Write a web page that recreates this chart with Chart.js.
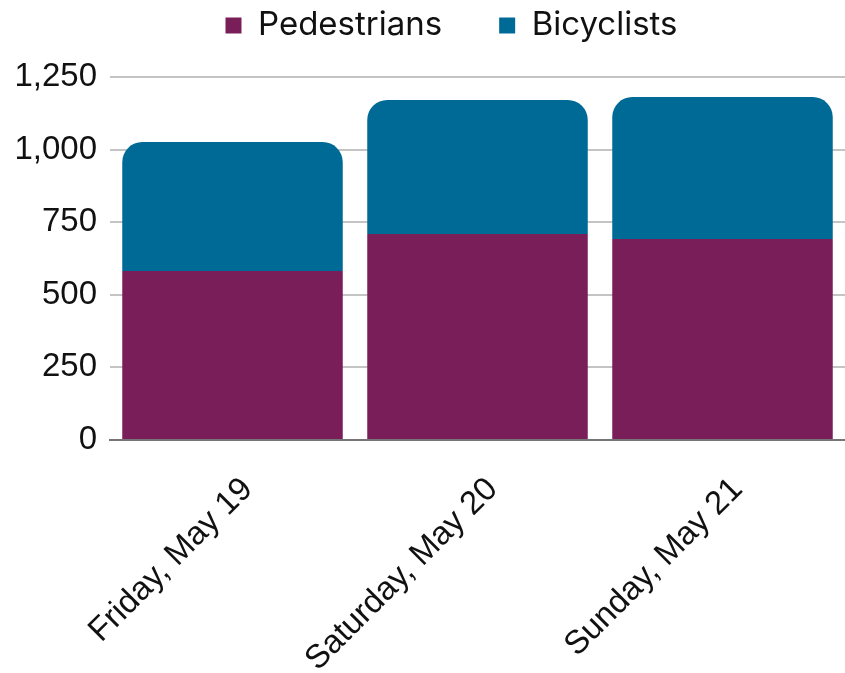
<!DOCTYPE html>
<html>
<head>
<meta charset="utf-8">
<script src="https://cdn.jsdelivr.net/npm/chart.js@4/dist/chart.umd.min.js"></script>
<style>
  html, body { margin: 0; padding: 0; background: #fff; }
  #wrap { width: 845px; height: 673px; }
</style>
</head>
<body>
<div id="wrap"><canvas id="countChart"></canvas></div>
<script>
const days = ["Friday, May 19", "Saturday, May 20", "Sunday, May 21"];
const pedestrians = [582, 709, 692];
const bicyclists = [444, 462, 489];
const yTicks = [0, 250, 500, 750, 1000, 1250];

const ctx = document.getElementById('countChart').getContext('2d');

// legend needs wide gaps between items but a short box, so cap its height
// and nudge it a bit right of the page centre
const legendTweak = {
  id: 'legendTweak',
  beforeInit(chart) {
    const fit = chart.legend.fit;
    chart.legend.fit = function () {
      fit.call(this);
      this.height = 125;
    };
  },
  afterLayout(chart) {
    chart.legend.left += 29;
    chart.legend.right += 29;
  }
};

new Chart(ctx, {
  type: 'bar',
  data: {
    labels: days,
    datasets: [
      {
        label: 'Pedestrians',
        data: pedestrians,
        backgroundColor: '#7a1e5a',
        borderWidth: 0,
        borderRadius: 0,
        barPercentage: 0.9,
        categoryPercentage: 1
      },
      {
        label: 'Bicyclists',
        data: bicyclists,
        backgroundColor: '#006a96',
        borderWidth: 0,
        borderRadius: { topLeft: 20, topRight: 20, bottomLeft: 0, bottomRight: 0 },
        borderSkipped: false,
        barPercentage: 0.9,
        categoryPercentage: 1
      }
    ]
  },
  plugins: [legendTweak],
  options: {
    responsive: true,
    maintainAspectRatio: false,
    animation: false,
    layout: { padding: { top: -48, right: 0, left: 0, bottom: 0 } },
    plugins: {
      legend: {
        position: 'top',
        labels: {
          color: '#111',
          font: { family: 'Inter', size: 33 },
          boxWidth: 16,
          boxHeight: 16,
          padding: 57
        }
      },
      tooltip: { enabled: false }
    },
    scales: {
      x: {
        stacked: true,
        grid: { display: false },
        border: { display: true, color: '#767676', width: 2 },
        ticks: {
          color: '#111',
          font: { family: 'Liberation Sans', size: 33 },
          maxRotation: 45,
          minRotation: 45,
          padding: 22,
          labelOffset: 15
        },
        afterFit: (scale) => { scale.height = 233; }
      },
      y: {
        stacked: true,
        min: 0,
        max: 1250,
        afterBuildTicks: (scale) => { scale.ticks = yTicks.map(v => ({ value: v })); },
        grid: { color: '#c4c4c4', lineWidth: 2, drawTicks: false },
        border: { display: false },
        ticks: {
          color: '#111',
          font: { family: 'Liberation Sans', size: 33 },
          padding: 13,
          callback: (v) => v.toLocaleString('en-US')
        },
        afterFit: (scale) => { scale.width = 110; }
      }
    }
  }
});
</script>
</body>
</html>
